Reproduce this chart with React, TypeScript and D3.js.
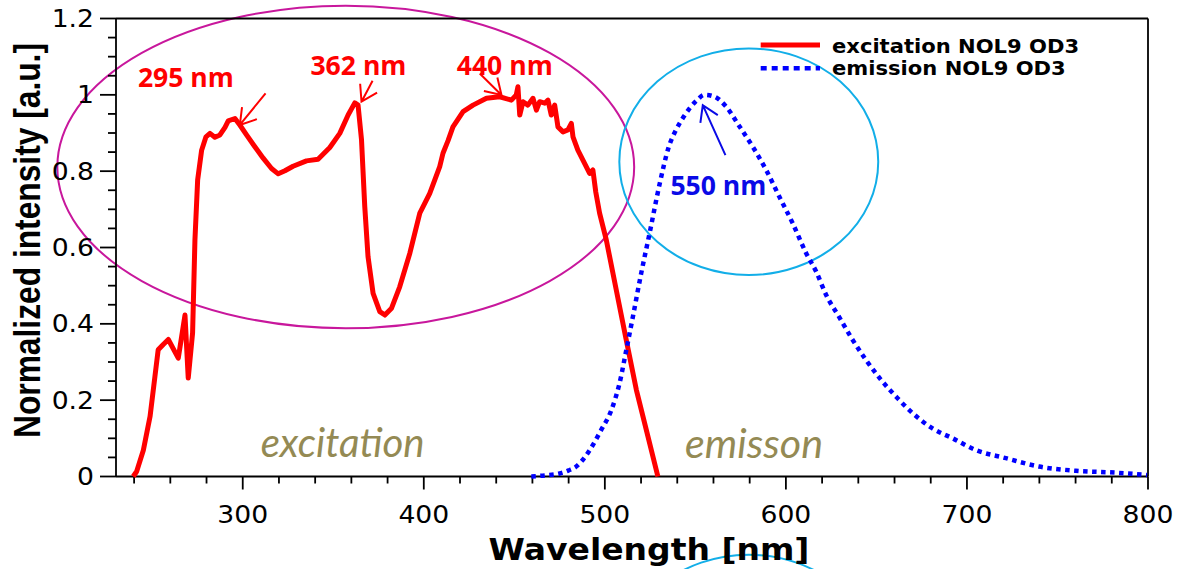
import React from 'react';
import * as d3 from 'd3';

// ---------- data ----------
const exWl = [239.5, 241.4, 245.1, 248.8, 251.5, 253.3, 256.1, 258.9, 264.4, 268.1, 269.9, 272.3, 273.6, 275.1, 277.3, 279.7, 281.9, 284.6, 287.4, 290.2, 292.0, 295.7, 298.4, 302.1, 306.7, 311.3, 315.9, 319.6, 323.3, 327.8, 335.2, 341.6, 348.1, 353.6, 358.2, 361.9, 363.7, 365.6, 367.4, 369.2, 372.0, 375.7, 378.5, 382.2, 386.7, 392.3, 397.8, 403.3, 408.8, 410.6, 413.4, 416.1, 421.7, 427.2, 434.6, 441.9, 448.4, 451.1, 452.0, 453.0, 454.8, 457.5, 460.3, 462.2, 464.0, 466.8, 468.6, 470.4, 472.3, 474.1, 476.9, 479.6, 481.5, 482.4, 485.1, 487.9, 491.6, 493.4, 495.0, 497.1, 500.8, 506.3, 511.8, 517.4, 522.9, 529.3];
const exI = [0, 0.013, 0.069, 0.157, 0.262, 0.332, 0.346, 0.359, 0.31, 0.423, 0.258, 0.376, 0.62, 0.777, 0.855, 0.89, 0.899, 0.889, 0.895, 0.915, 0.932, 0.938, 0.921, 0.895, 0.864, 0.834, 0.807, 0.793, 0.801, 0.813, 0.827, 0.831, 0.862, 0.899, 0.947, 0.979, 0.973, 0.882, 0.707, 0.576, 0.48, 0.432, 0.423, 0.441, 0.497, 0.585, 0.69, 0.742, 0.812, 0.847, 0.88, 0.916, 0.956, 0.973, 0.991, 0.995, 0.986, 1.0, 1.021, 0.947, 0.982, 0.973, 0.991, 0.96, 0.982, 0.978, 0.986, 0.947, 0.973, 0.916, 0.903, 0.908, 0.925, 0.89, 0.855, 0.829, 0.794, 0.803, 0.745, 0.69, 0.62, 0.489, 0.358, 0.227, 0.122, 0];

const emWl = [459.4, 467, 475.0, 480, 484.2, 487.0, 491.6, 498.0, 503.6, 508.1, 511.8, 515.5, 520.1, 524.7, 530.2, 535.2, 539.5, 543.6, 550.5, 555.1, 560.6, 567.0, 574.4, 581.7, 589.1, 596.4, 603.8, 611.2, 616.7, 622.4, 629.3, 636.6, 644.3, 652.6, 661.7, 670.0, 681.0, 692.1, 705.0, 721.5, 739.9, 760.2, 782.3, 799.5];
const emI = [0, 0.003, 0.008, 0.016, 0.026, 0.039, 0.069, 0.122, 0.174, 0.244, 0.33, 0.419, 0.533, 0.637, 0.765, 0.862, 0.91, 0.943, 0.984, 1.0, 0.995, 0.969, 0.917, 0.864, 0.803, 0.733, 0.663, 0.585, 0.537, 0.474, 0.419, 0.36, 0.305, 0.253, 0.205, 0.166, 0.126, 0.1, 0.069, 0.048, 0.026, 0.015, 0.01, 0.004];

const xTicks = [300, 400, 500, 600, 700, 800];
const xTickLabels = ['300', '400', '500', '600', '700', '800'];
const yTicks = [0, 0.2, 0.4, 0.6, 0.8, 1, 1.2];
const yTickLabels = ['0', '0.2', '0.4', '0.6', '0.8', '1', '1.2'];

const seriesNames = ['excitation NOL9 OD3', 'emission NOL9 OD3'];

// peak annotations (data units): label position, arrow start, arrow tip
const peakLabels = ['295 nm', '362 nm', '440 nm', '550 nm'];
const peakLabelWl = [242.1, 337.4, 418.2, 536.2];
const peakLabelI = [1.021, 1.052, 1.052, 0.7375];
const arrowFromWl = [312.6, 371.7, 430.9, 566.6];
const arrowFromI = [1.004, 1.037, 1.056, 0.842];
const arrowToWl = [298.4, 365.6, 442.9, 554.1];
const arrowToI = [0.921, 0.982, 0.9995, 0.973];

// region ellipses (data units): center wl, center I, radius nm, radius I
const ellCx = [356.9, 579.5, 579.5];
const ellCy = [0.811, 0.8248, -0.5017];
const ellRx = [159.3, 71.5, 71.5];
const ellRy = [0.4226, 0.2969, 0.2969];

const regionNames = ['excitation', 'emisson'];
const regionWl = [309.9, 544.3];
const regionI = [0.052, 0.0485];

export default function App() {
  const L = 116, R = 1148, T = 18.5, B = 476.5;
  const x = d3.scaleLinear().domain([230, 800]).range([L, R]);
  const y = d3.scaleLinear().domain([0, 1.2]).range([B, T]);

  const exPath = d3.line<[number, number]>().x(d => x(d[0])).y(d => y(d[1])).curve(d3.curveLinear)(
    exWl.map((w, i) => [w, exI[i]] as [number, number])) || '';
  const emPath = d3.line<[number, number]>().x(d => x(d[0])).y(d => y(d[1])).curve(d3.curveMonotoneX)(
    emWl.map((w, i) => [w, emI[i]] as [number, number])) || '';

  const xMinor = d3.range(240, 801, 20).filter(v => v % 100 !== 0);
  const yMinor = d3.range(0, 25).filter(i => i % 4 !== 0).map(i => i * 0.05);

  const arrowPath = (sx: number, sy: number, tx: number, ty: number) => {
    const a = Math.atan2(sy - ty, sx - tx);
    const len = 18, sp = 0.56;
    const b1x = tx + len * Math.cos(a + sp), b1y = ty + len * Math.sin(a + sp);
    const b2x = tx + len * Math.cos(a - sp), b2y = ty + len * Math.sin(a - sp);
    return `M${sx},${sy}L${tx},${ty}M${b1x},${b1y}L${tx},${ty}L${b2x},${b2y}`;
  };

  const ellColors = ['#c8179c', '#12aee8', '#12aee8'];
  const peakColors = ['#ff0000', '#ff0000', '#ff0000', '#0a0ae6'];

  return (
    <svg width={1181} height={569} style={{ position: 'absolute', left: 0, top: 0, display: 'block', background: '#fff' }}>
      {/* ellipses */}
      {ellCx.map((c, i) => (
        <ellipse key={'e' + i} cx={x(c)} cy={y(ellCy[i])}
          rx={x(c + ellRx[i]) - x(c)} ry={y(0) - y(ellRy[i])}
          fill="none" stroke={ellColors[i]} strokeWidth={2} />
      ))}

      {/* frame */}
      <g stroke="#000" strokeWidth={1.8} fill="none">
        <line x1={L} y1={T} x2={R} y2={T} />
        <line x1={R} y1={T} x2={R} y2={B} />
        <line x1={L} y1={B} x2={R} y2={B} />
        <line x1={L} y1={T} x2={L} y2={B} />
        {xTicks.map(v => <line key={'xt' + v} x1={x(v)} x2={x(v)} y1={B} y2={B + 13} />)}
        {xMinor.map(v => <line key={'xm' + v} x1={x(v)} x2={x(v)} y1={B} y2={B + 7} />)}
        {yTicks.map(v => <line key={'yt' + v} x1={L - 16} x2={L} y1={y(v)} y2={y(v)} />)}
        {yMinor.map(v => <line key={'ym' + v} x1={L - 8} x2={L} y1={y(v)} y2={y(v)} />)}
      </g>

      {/* tick labels */}
      <g fontFamily="'DejaVu Sans', Verdana, sans-serif" fontSize={24} fill="#000">
        {xTicks.map((v, i) => (
          <text key={'xl' + v} transform={`translate(${x(v)},522.7) scale(1.11,1)`} textAnchor="middle">{xTickLabels[i]}</text>
        ))}
        {yTicks.map((v, i) => (
          <text key={'yl' + v} transform={`translate(94,${y(v)}) scale(1.11,1)`} textAnchor="end" dy="0.36em">{yTickLabels[i]}</text>
        ))}
      </g>

      {/* axis titles */}
      <text transform="translate(649,560) scale(1.1,1)" textAnchor="middle"
        fontFamily="'DejaVu Sans', Verdana, sans-serif" fontWeight="bold" fontSize={30}>Wavelength [nm]</text>
      <text transform="translate(40,240.5) scale(1.15,1) rotate(-90)" textAnchor="middle"
        fontFamily="'Liberation Sans', Arial, sans-serif" fontWeight="bold" fontSize={32}
        textLength={395} lengthAdjust="spacingAndGlyphs">Normalized intensity [a.u.]</text>

      {/* curves */}
      <path d={exPath} fill="none" stroke="#ff0000" strokeWidth={5} strokeLinejoin="round" />
      <path d={emPath} fill="none" stroke="#0000ff" strokeWidth={4.5} strokeDasharray="4.5,4.5" />

      {/* region labels */}
      {regionNames.map((n, i) => (
        <text key={'r' + i} x={x(regionWl[i])} y={y(regionI[i])} fontFamily="Lato, 'Open Sans', sans-serif"
          fontStyle="italic" fontSize={40} fill="#948a54" textLength={i === 0 ? 164 : 138}
          lengthAdjust="spacingAndGlyphs">{n}</text>
      ))}

      {/* peak annotations */}
      {peakLabels.map((n, i) => (
        <g key={'p' + i}>
          <path d={arrowPath(x(arrowFromWl[i]), y(arrowFromI[i]), x(arrowToWl[i]), y(arrowToI[i]))}
            fill="none" stroke={peakColors[i]} strokeWidth={2} />
          <text x={x(peakLabelWl[i])} y={y(peakLabelI[i])} fontFamily="'Open Sans', sans-serif" fontWeight="bold"
            fontSize={27} fill={peakColors[i]} textLength={96} lengthAdjust="spacingAndGlyphs">{n}</text>
        </g>
      ))}

      {/* legend */}
      <g>
        <line x1={760.7} x2={820} y1={45} y2={45} stroke="#ff0000" strokeWidth={5} />
        <line x1={760.7} x2={820} y1={68.3} y2={68.3} stroke="#0000ff" strokeWidth={4.5} strokeDasharray="6,5" />
        {seriesNames.map((n, i) => (
          <text key={'lg' + i} transform={`translate(832,${i === 0 ? 53 : 75.3}) scale(1.11,1)`}
            fontFamily="'DejaVu Sans', Verdana, sans-serif" fontWeight="bold" fontSize={19} fill="#000">{n}</text>
        ))}
      </g>
    </svg>
  );
}
